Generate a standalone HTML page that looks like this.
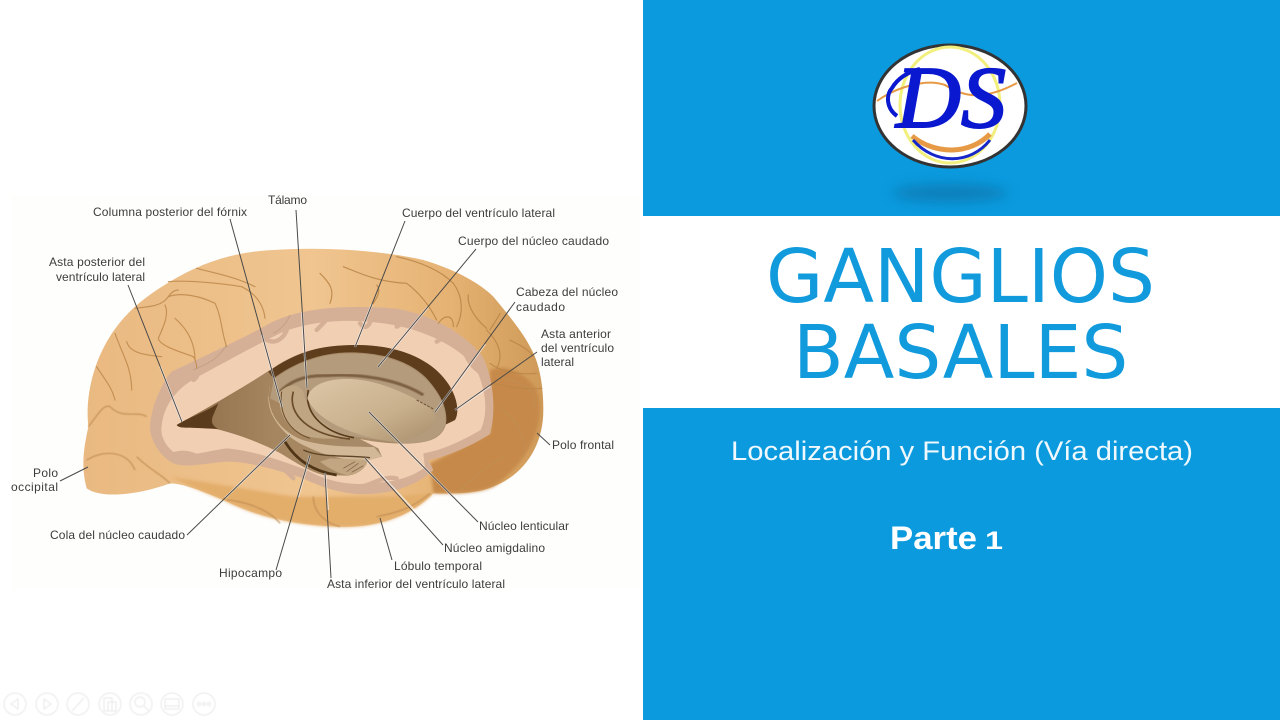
<!DOCTYPE html>
<html lang="es"><head><meta charset="utf-8"><title>Ganglios basales</title>
<style>html,body{margin:0;padding:0;width:1280px;height:720px;overflow:hidden;background:#fff}svg{display:block}</style></head>
<body>
<svg xmlns="http://www.w3.org/2000/svg" width="1280" height="720" viewBox="0 0 1280 720">
<defs>
<filter id="b0" x="-5%" y="-5%" width="110%" height="110%"><feGaussianBlur stdDeviation=".5"/></filter>
<filter id="b1" x="-5%" y="-5%" width="110%" height="110%"><feGaussianBlur stdDeviation="1.5"/></filter>
<filter id="b3" x="-10%" y="-10%" width="120%" height="120%"><feGaussianBlur stdDeviation="5"/></filter>
<filter id="b9" x="-30%" y="-80%" width="160%" height="260%"><feGaussianBlur stdDeviation="6"/></filter>
<linearGradient id="outer" x1="0" y1="0" x2="1" y2="0"><stop offset="0" stop-color="#e9b981"/><stop offset=".5" stop-color="#f0c590"/><stop offset=".8" stop-color="#e5b273"/><stop offset="1" stop-color="#cf9a58"/></linearGradient>
<linearGradient id="cav" x1="0" y1="0" x2="1" y2="0"><stop offset="0" stop-color="#8d6d48"/><stop offset=".35" stop-color="#a58660"/><stop offset="1" stop-color="#a98f70"/></linearGradient>
<linearGradient id="len" x1="0" y1="0" x2="1" y2="1"><stop offset="0" stop-color="#dcc6a6"/><stop offset=".6" stop-color="#c9b08d"/><stop offset="1" stop-color="#a98f6c"/></linearGradient>
</defs>
<rect width="1280" height="720" fill="#fff"/>
<rect x="12" y="195" width="628" height="395" fill="#fefefd"/>

<g transform="translate(60 230) scale(.33333)">
<path d="M80 775C60 700 75 640 85 590C75 500 100 410 135 345C170 280 220 220 330 155C420 100 520 65 640 60C780 50 960 60 1090 90C1190 120 1260 160 1300 200C1350 260 1390 310 1410 350C1440 400 1450 470 1450 540C1450 640 1400 730 1300 770C1240 795 1170 790 1120 790C1050 860 950 895 830 890C700 885 590 860 490 810C430 785 370 760 330 760C250 790 130 810 80 775Z" fill="url(#outer)"/>
<path d="M1290 420C1340 400 1400 430 1430 480C1460 560 1420 690 1300 770C1240 795 1170 790 1120 790L1110 700L1290 610Z" fill="#c6894a" filter="url(#b3)"/>
<path d="M1120 790C1050 860 950 895 830 890C700 885 590 860 490 810C430 785 370 760 330 740L700 800L1000 800Z" fill="#e3ad6b" filter="url(#b3)"/>
<g fill="none" stroke="#c18f55" stroke-width="4" filter="url(#b1)" opacity=".85">
<path d="M85 590C110 560 130 520 150 530C190 570 230 540 260 560"/>
<path d="M1310 530C1360 560 1400 600 1390 680M1200 780C1260 720 1300 700 1330 680"/>
<path d="M80 690C130 660 200 660 225 720M230 680C270 720 300 730 330 760"/>
<path d="M500 810C530 810 620 830 660 880M760 800C760 850 800 880 840 890M950 860C1000 850 1050 840 1110 790"/>
<path d="M1310 440C1370 450 1440 470 1420 540"/>
</g>
<path d="M270 590C275 510 320 440 335 425C440 375 560 320 620 285C700 240 820 222 1000 235C1120 250 1220 320 1265 375C1300 440 1310 540 1290 612C1230 650 1160 680 1105 690L1120 720C1070 765 1010 785 950 790C880 800 800 780 730 745C650 720 570 695 500 695C430 700 380 715 340 700C300 680 270 630 270 590Z" fill="#d5b097" filter="url(#b0)"/>
<path d="M305 590C310 530 345 480 405 445C470 410 560 360 650 315C740 270 880 262 1000 285C1110 305 1210 360 1250 420C1285 500 1280 560 1262 600C1210 630 1150 660 1090 670L1095 712C1050 745 1000 755 950 758C880 770 800 755 740 720C660 690 570 660 500 655C430 665 390 680 350 672C320 655 300 620 305 590Z" fill="#f1cfb3" filter="url(#b0)"/>
<g fill="none" stroke="#d5b097" stroke-width="13" stroke-linecap="round" filter="url(#b0)">
<path d="M400 450C420 440 410 410 440 400C470 410 480 390 500 355M620 330C650 345 680 320 685 280M770 300C790 280 800 270 810 255M900 280C915 300 930 290 935 260M1010 290C1030 280 1040 260 1040 250M1130 335C1150 325 1160 310 1170 300M1220 380C1240 420 1260 420 1270 440"/>
<path d="M335 675C400 650 420 705 470 675M570 680C620 695 660 700 700 745M880 770C930 775 960 735 1010 745"/>
</g>
<path d="M400 420C430 405 470 395 500 345M640 310C660 300 680 280 690 255" fill="none" stroke="#c49f84" stroke-width="3" filter="url(#b0)"/>
</g>

<g transform="translate(75 240) scale(.33333)" fill="none" stroke="#c08c50" stroke-width="3.5" stroke-linecap="round" filter="url(#b0)" opacity=".9">
<path d="M280 125C340 120 440 130 500 140C540 160 565 190 570 235"/>
<path d="M365 85C420 100 480 110 540 140"/>
<path d="M180 205C220 200 260 200 280 170C290 155 300 150 310 150"/>
<path d="M270 195C285 225 260 270 250 295C255 320 330 340 355 350C365 365 365 380 365 385"/>
<path d="M280 170C320 155 380 170 420 190C440 230 440 280 455 320"/>
<path d="M300 235C340 270 360 310 360 360"/>
<path d="M155 305C165 340 210 345 260 350"/>
<path d="M120 280C140 340 170 380 170 450"/>
<path d="M65 380C90 420 110 440 120 480"/>
</g>
<g transform="translate(320 240) scale(.33333)" fill="none" stroke="#bb874a" stroke-width="3.5" stroke-linecap="round" filter="url(#b0)" opacity=".9">
<path d="M0 100C30 130 45 150 30 190"/>
<path d="M70 80C120 100 170 125 260 130C300 160 330 200 350 240"/>
<path d="M170 135C185 150 170 175 160 190"/>
<path d="M230 50C300 65 360 90 400 130C430 170 430 220 410 260"/>
<path d="M445 165C440 200 470 240 500 265"/>
<path d="M355 250C370 225 400 220 400 260"/>
<path d="M500 270C530 300 555 340 530 385"/>
<path d="M540 220C530 240 515 260 510 270"/>
<path d="M570 300C585 310 620 320 640 350"/>
<path d="M510 370C540 395 600 405 650 400"/>
<path d="M520 430C560 440 620 450 665 445"/>
</g>

<g transform="translate(170 335) scale(.33333)">
<path d="M20 270C100 225 200 170 300 105C380 50 450 30 560 30C680 30 780 70 830 140C860 180 870 230 855 255L828 268C815 310 780 325 700 326C660 326 620 322 570 312L625 340L636 365L592 376C590 400 560 420 530 422L460 420C420 410 380 385 340 360C290 330 200 295 130 280L60 278C40 278 25 278 20 270Z" fill="url(#cav)" filter="url(#b0)"/>
<path d="M20 270C60 245 100 235 145 205L130 240C122 258 125 272 145 282L60 278C40 278 25 278 20 270Z" fill="#5a3a1a" filter="url(#b0)"/>
<path d="M295 110C380 50 450 30 560 30C680 30 780 70 830 140C860 180 870 230 855 255L828 268C835 220 810 175 770 130C720 80 640 52 540 52C450 52 370 85 310 130Z" fill="#5d3e1e" filter="url(#b0)"/>
<path d="M312 132C370 88 450 55 540 55C640 55 720 85 768 133C808 175 830 220 826 268C812 308 780 324 700 325L520 300L400 240L300 190Z" fill="#b49b7b" filter="url(#b0)"/>
<path d="M330 170C360 140 400 120 470 122C560 115 680 130 760 180" fill="none" stroke="#7b5f3f" stroke-width="9" filter="url(#b1)"/>
<path d="M300 150C285 220 320 280 390 312C450 335 540 335 612 336L636 365L592 376C540 380 470 365 410 335C350 310 295 250 295 190Z" fill="#d3b897" filter="url(#b0)"/>
<path d="M330 170C320 230 350 280 400 300C440 315 490 310 540 310C470 280 410 230 400 170C380 140 350 150 330 170Z" fill="#bfa581" filter="url(#b0)"/>
<path d="M370 170C350 240 420 300 540 312" fill="none" stroke="#6a4b2a" stroke-width="5" filter="url(#b0)"/>
<path d="M335 170C325 240 360 290 420 310" fill="none" stroke="#6a4b2a" stroke-width="3" filter="url(#b0)"/>
<path d="M415 165C400 240 470 295 552 308" fill="none" stroke="#583a1a" stroke-width="5" filter="url(#b0)"/>
<path d="M412 190C420 150 470 130 540 132C620 135 700 170 760 205C785 222 800 240 795 255C780 295 720 320 660 318C560 305 440 260 412 190Z" fill="url(#len)" filter="url(#b0)"/>
<path d="M740 195L790 222" stroke="#6d4f30" stroke-width="3" stroke-dasharray="8 4" filter="url(#b0)"/>
<path d="M345 320C375 370 425 408 500 420" fill="none" stroke="#4f3518" stroke-width="8" filter="url(#b0)"/>
<path d="M400 345C450 368 520 360 600 368" fill="none" stroke="#5f4426" stroke-width="4" filter="url(#b0)"/>
<path d="M480 370C530 372 570 372 592 376C590 400 560 420 530 420C500 415 470 395 450 380Z" fill="#c2a682" filter="url(#b0)"/>
<path d="M530 410L565 385M545 412L580 392M520 400L555 380" stroke="#7d6040" stroke-width="2"/>
</g>

<g fill="none" stroke="#fff" stroke-width="2.2" opacity=".6">
<path d="M262 335L282 407M302 312L307 388M372 304L355 347M428 307L378 367M485 344L435 412M490 386L455 410M369 412L478 522M365 458L428 525M325 473L328 510M310 455L298 497M290 435L225 498M160 366L182 422"/>
</g>
<g fill="none" stroke="#4a4a4a" stroke-width="1">
<path d="M230 219L282 407M296 210L307 388M405 221L355 347M476 249L378 367M515 302L435 412M537 352L455 410M537 433L550 445M369 412L478 522M365 458L443 545M380 518L392 560M325 473L331 578M310 455L276 570M290 435L187 535M88 467L60 481M128 285L182 422"/>
</g>

<g font-family="'Liberation Sans',sans-serif" font-size="12" fill="#3c3c3c">
<text x="93" y="216" textLength="154">Columna posterior del fórnix</text>
<text x="268" y="204" textLength="39">Tálamo</text>
<text x="402" y="217" textLength="153">Cuerpo del ventrículo lateral</text>
<text x="458" y="245" textLength="151">Cuerpo del núcleo caudado</text>
<text x="516" y="296" textLength="102">Cabeza del núcleo</text>
<text x="516" y="311" textLength="49">caudado</text>
<text x="541" y="338" textLength="70">Asta anterior</text>
<text x="541" y="352" textLength="73">del ventrículo</text>
<text x="541" y="366" textLength="33">lateral</text>
<text x="552" y="449" textLength="62">Polo frontal</text>
<text x="479" y="530" textLength="90">Núcleo lenticular</text>
<text x="444" y="552" textLength="101">Núcleo amigdalino</text>
<text x="394" y="570" textLength="88">Lóbulo temporal</text>
<text x="327" y="588" textLength="178">Asta inferior del ventrículo lateral</text>
<text x="219" y="577" textLength="63">Hipocampo</text>
<text x="50" y="539" textLength="135">Cola del núcleo caudado</text>
<text x="33" y="477" textLength="25">Polo</text>
<text x="11" y="491" textLength="47">occipital</text>
<text x="49" y="266" textLength="96">Asta posterior del</text>
<text x="56" y="281" textLength="89">ventrículo lateral</text>
</g>

<g fill="none" stroke="#e8e8e8" stroke-width="1" filter="url(#b0)">
<circle cx="15" cy="704" r="11"/><circle cx="47" cy="704" r="11"/><circle cx="78" cy="704" r="11"/><circle cx="110" cy="704" r="11"/><circle cx="141" cy="704" r="11"/><circle cx="172" cy="704" r="11"/><circle cx="204" cy="704" r="11"/>
<path d="M18 699L11 704L18 709ZM44 699L51 704L44 709ZM72 711L84 698M104 698H112V711H104ZM108 702H116V711H108Z"/>
<circle cx="140" cy="702" r="5"/><path d="M144 706L149 711M165 699H179V709H165ZM165 706H179"/>
<circle cx="199" cy="704" r="1.5"/><circle cx="204" cy="704" r="1.5"/><circle cx="209" cy="704" r="1.5"/>
</g>

<rect x="643" y="0" width="637" height="216" fill="#0b9ade"/>
<rect x="643" y="408" width="637" height="312" fill="#0b9ade"/>

<ellipse cx="950" cy="193" rx="58" ry="9" fill="#0a6a9e" opacity=".55" filter="url(#b9)"/>
<ellipse cx="950" cy="106" rx="76" ry="61" fill="#fff" stroke="#333" stroke-width="3"/>
<g fill="none">
<ellipse cx="950" cy="105" rx="50" ry="58" stroke="#f2ef7c" stroke-width="3"/>
<path d="M877 101C895 88 925 78 945 85C965 98 985 100 1017 83" stroke="#e79a45" stroke-width="2"/>
<path d="M912 136C935 155 970 155 990 134" stroke="#e79a45" stroke-width="5"/>
<path d="M913 140C935 165 970 165 990 140" stroke="#1726c9" stroke-width="3"/>
<path d="M897 116C886 108 886 95 892 88C898 78 908 72 920 69" stroke="#0a18cf" stroke-width="4"/>
</g>
<text x="896" y="127" font-family="'Liberation Serif',serif" font-style="italic" font-size="88" fill="#0a18cf" stroke="#0a18cf" stroke-width="2" textLength="110" lengthAdjust="spacingAndGlyphs">DS</text>

<g font-family="'DejaVu Sans',sans-serif" fill="#119bdd" font-size="74">
<text x="766" y="302">GANGLIOS</text>
<text x="793" y="378">BASALES</text>
</g>
<text x="731" y="460" font-family="'Liberation Sans',sans-serif" font-size="26.5" fill="#eef8fd" textLength="462" lengthAdjust="spacingAndGlyphs">Localización y Función (Vía directa)</text>
<text x="890" y="549" font-family="'Liberation Sans',sans-serif" font-size="32" font-weight="bold" fill="#fff" textLength="87" lengthAdjust="spacingAndGlyphs">Parte</text>
<text x="985" y="549" font-family="'Liberation Sans',sans-serif" font-size="25" font-weight="bold" fill="#fff" textLength="18" lengthAdjust="spacingAndGlyphs">1</text>
</svg>
</body></html>
